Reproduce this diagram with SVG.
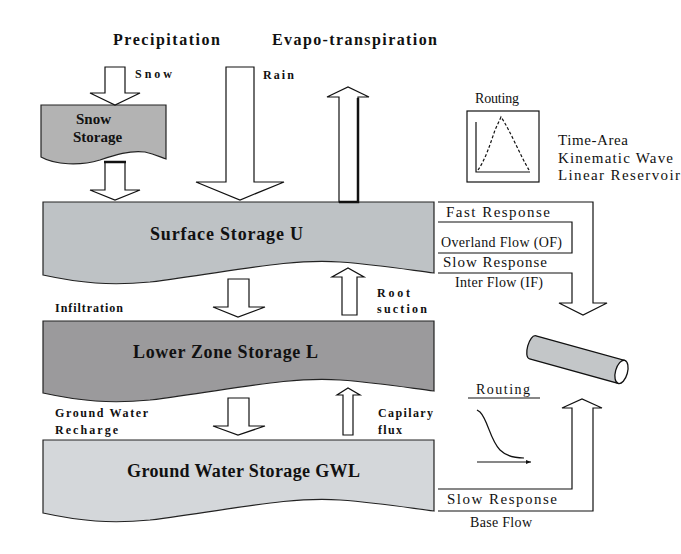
<svg xmlns="http://www.w3.org/2000/svg" width="681" height="554" viewBox="0 0 681 554">
<style>
text{font-family:'Liberation Serif','DejaVu Serif','Noto Serif',serif;fill:#111}
.hd{font-size:16px;font-weight:bold}
.lb{font-size:12px;font-weight:bold}
.bx{font-size:18px;font-weight:bold}
.sn{font-size:15px;font-weight:bold}
.rg{font-size:15px}
.sm{font-size:14px}
.ar{fill:#fff;stroke:#111;stroke-width:1.2;stroke-linejoin:miter}
.st{stroke:#222;stroke-width:1.2}
.ln{fill:none;stroke:#111;stroke-width:1.2}
</style>
<rect width="681" height="554" fill="#fff"/>

<g id="titles">
<text class="hd" x="113" y="45" textLength="107" lengthAdjust="spacing">Precipitation</text>
<text class="hd" x="272" y="45" textLength="165" lengthAdjust="spacing">Evapo-transpiration</text>
</g>

<g id="snow-storage">
<path class="st" fill="#b3b3b3" d="M41,105 L166,105 L166,159 C160,157 155,154 145,152 C130,150 115,155 100,160 C80,166 55,165 41,157 Z"/>
<text class="sn" x="76" y="124">Snow</text>
<text class="sn" x="73" y="142">Storage</text>
</g>

<g id="surface-storage">
<path class="st" fill="#bec2c5" d="M43,202 L434,202 L434,273 C410,270 380,265 340,262 C290,258 230,272 150,282 C110,286 80,283 43,275 Z"/>
<text class="bx" x="150" y="240" textLength="153" lengthAdjust="spacing">Surface Storage U</text>
</g>

<g id="lower-zone-storage">
<path class="st" fill="#9b9a9c" d="M43,321 L434,321 L434,391 C410,388 380,383 340,380 C290,376 230,390 150,400 C110,404 80,401 43,393 Z"/>
<text class="bx" x="133" y="358" textLength="185" lengthAdjust="spacing">Lower Zone Storage L</text>
</g>

<g id="groundwater-storage">
<path class="st" fill="#d4d7da" d="M43,440 L434,440 L434,511 C410,508 380,503 340,500 C290,496 230,510 150,520 C110,524 80,521 43,513 Z"/>
<text class="bx" x="127" y="477" textLength="233" lengthAdjust="spacing">Ground Water Storage GWL</text>
</g>

<g id="routing-top">
<text class="sm" x="475" y="103" textLength="44" lengthAdjust="spacing">Routing</text>
<rect x="467" y="111" width="72" height="71" fill="#fff" stroke="#111" stroke-width="1.2"/>
<path class="ln" d="M476,122 L476,172 L530,172"/>
<path class="ln" stroke-dasharray="3,2" d="M478,170 C485,160 490,145 495,130 L501,117 C510,130 520,155 529,170"/>
<text class="rg" x="558" y="145" textLength="70" lengthAdjust="spacing">Time-Area</text>
<text class="rg" x="558" y="163" textLength="115" lengthAdjust="spacing">Kinematic Wave</text>
<text class="rg" x="558" y="180" textLength="122" lengthAdjust="spacing">Linear Reservoir</text>
</g>

<g id="routing-bottom">
<text class="sm" x="476" y="394" textLength="54" lengthAdjust="spacing">Routing</text>
<line x1="468" y1="398" x2="540" y2="398" stroke="#111" stroke-width="1.2"/>
<path class="ln" d="M477,410 L480,412 C488,420 490,440 500,450 C505,455 512,458 524,458"/>
<path class="ln" d="M477,462 L531,462"/>
<path d="M531,462 L526,460 L526,464 Z" fill="#111"/>
</g>

<g id="channel-pipe">
<g transform="translate(528,346) rotate(15.5)">
<path d="M5,-12 L97,-12 L97,12 L5,12 C-2,12 -2,-12 5,-12 Z" fill="#c3c6c8" stroke="#111" stroke-width="1.3"/>
<ellipse cx="97" cy="0" rx="6" ry="12" fill="#fff" stroke="#111" stroke-width="1.3"/>
</g>
</g>

<g id="connectors">
<path class="ar" d="M105,67 L125,67 L125,93 L140,93 L115,105 L90,93 L105,93 Z"/>
<path class="ar" d="M105,162 L125,162 L125,190 L140,190 L115,200 L90,190 L105,190 Z"/>
<line x1="104" y1="162" x2="126" y2="162" stroke="#111" stroke-width="2.5"/>
<path class="ar" d="M226,67 L254,67 L254,182 L284,182 L240,200 L196,182 L226,182 Z"/>
<path class="ar" d="M339,202 L339,97 L327,97 L348,87 L369,97 L358,97 L358,202 Z"/>
<path d="M358,98 L358,202 L339,202" fill="none" stroke="#111" stroke-width="2.5"/>
<path class="ar" d="M228,279 L249,279 L249,307 L265,307 L238,317 L213,307 L228,307 Z"/>
<path class="ar" d="M342,315 L342,277 L332,277 L348,268 L364,277 L357,277 L357,315 Z"/>
<path class="ar" d="M228,398 L249,398 L249,426 L265,426 L238,435 L213,426 L228,426 Z"/>
<path class="ar" d="M343,435 L343,395 L337,395 L348,388 L360,395 L353,395 L353,435 Z"/>
<path class="ln" d="M438,202 L593,202 L593,303 L607,303 L583,315 L559,303 L572,303 L572,273 L438,273"/>
<path class="ln" d="M438,222 L572,222 L572,253 L438,253"/>
<path class="ln" d="M438,489 L572,489 L572,408 L562,408 L582,399 L602,408 L593,408 L593,511 L438,511"/>
</g>

<g id="labels">
<text class="lb" x="135" y="78" textLength="37" lengthAdjust="spacing">Snow</text>
<text class="lb" x="263" y="79" textLength="31" lengthAdjust="spacing">Rain</text>
<text class="lb" x="55" y="312" textLength="68" lengthAdjust="spacing">Infiltration</text>
<text class="lb" x="377" y="297" textLength="33" lengthAdjust="spacing">Root</text>
<text class="lb" x="377" y="313" textLength="50" lengthAdjust="spacing">suction</text>
<text class="lb" x="55" y="417" textLength="93" lengthAdjust="spacing">Ground Water</text>
<text class="lb" x="55" y="434" textLength="63" lengthAdjust="spacing">Recharge</text>
<text class="lb" x="378" y="417" textLength="55" lengthAdjust="spacing">Capilary</text>
<text class="lb" x="378" y="434" textLength="24" lengthAdjust="spacing">flux</text>
<text class="rg" x="446" y="217" textLength="104" lengthAdjust="spacing">Fast Response</text>
<text class="sm" x="441" y="247" textLength="121" lengthAdjust="spacing">Overland Flow (OF)</text>
<text class="rg" x="443" y="267" textLength="104" lengthAdjust="spacing">Slow Response</text>
<text class="sm" x="455" y="287" textLength="88" lengthAdjust="spacing">Inter Flow (IF)</text>
<text class="rg" x="447" y="504" textLength="110" lengthAdjust="spacing">Slow Response</text>
<text class="sm" x="470" y="527" textLength="62" lengthAdjust="spacing">Base Flow</text>
</g>
</svg>
